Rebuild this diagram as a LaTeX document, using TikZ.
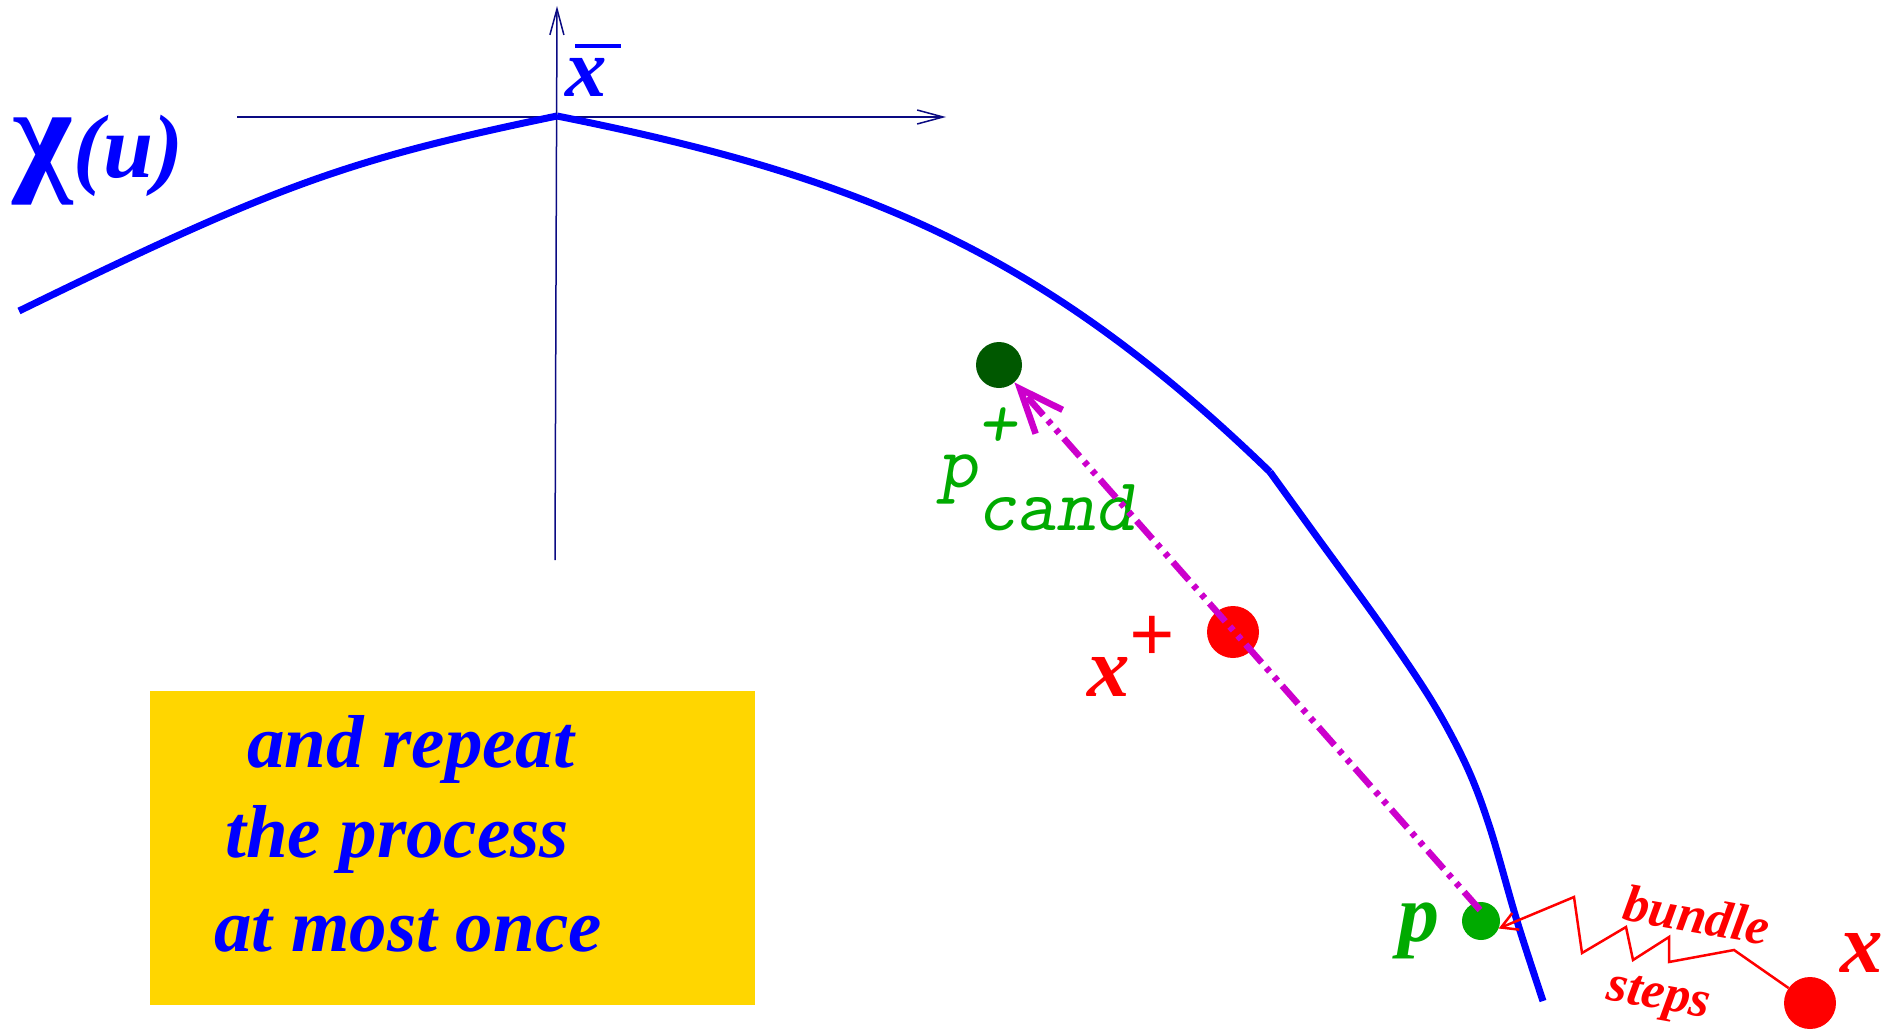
\documentclass[tikz,border=0pt]{standalone}
\usepackage{fontspec}
\setmainfont{Liberation Serif}
\usetikzlibrary{arrows.meta}
\definecolor{chiblue}{RGB}{0,0,255}
\definecolor{axcol}{RGB}{10,10,130}
\definecolor{magc}{RGB}{204,0,204}
\definecolor{grn}{RGB}{0,170,0}
\definecolor{dgrn}{RGB}{0,88,0}
\definecolor{boxgold}{RGB}{255,214,0}
\tikzset{
  curveline/.style={draw=chiblue, line width=7pt},
  axisline/.style={draw=axcol, line width=1.5pt, -{Straight Barb[length=26pt,width=14pt]}},
  ptdot/.style={circle, inner sep=0pt, draw=none},
  biglbl/.style={anchor=base west, inner sep=0pt, font=\fontsize{#1}{#1}\selectfont\bfseries\itshape},
  magline/.style={draw=magc, line width=6.5pt, dash pattern=on 24pt off 7pt on 5pt off 7pt on 5pt off 7pt,
     -{Straight Barb[length=44pt,width=36pt]}},
  zigline/.style={draw=red, line width=2.5pt, -{Straight Barb[length=16pt,width=18pt]}},
}
\begin{document}
\begin{tikzpicture}[x=1pt,y=-1pt]
\useasboundingbox (0,0) rectangle (1887,1033);
% yellow box
\node[fill=boxgold, minimum width=605pt, minimum height=314pt, anchor=north west, inner sep=0pt] (box) at (150,691) {};
\node[biglbl=75, text=chiblue] (t1) at (247,767) {and repeat};
\node[biglbl=75, text=chiblue] (t2) at (225,857) {the process};
\node[biglbl=75, text=chiblue] (t3) at (214,951) {at most once};
% axes
\coordinate (vb) at (555,560);
\coordinate (vt) at (557,6);
\coordinate (hl) at (237,117);
\coordinate (hr) at (946,117);
\draw[axisline] (vb) -- (vt);
\draw[axisline] (hl) -- (hr);
% curve
\draw[curveline] (19,311) .. controls (275,186) and (345,160) .. (557,116);
\draw[curveline] (557,116) .. controls (857,176) and (1040,249) .. (1270,472);
\draw[curveline] plot[smooth, tension=0.55] coordinates {(1270,472) (1317,537) (1383,628) (1433,703) (1467,767) (1490,828) (1517,921) (1543,1001)};
% labels
\node[anchor=base west, inner sep=0pt, text=chiblue, font=\fontsize{90}{90}\selectfont] (chi) at (12,177)
  {{\fontsize{130}{130}\selectfont\bfseries χ}\textbf{\textit{(u)}}};
\node[biglbl=83, text=chiblue] (xbar) at (565,96) {x};
\draw[chiblue, line width=4.5pt] (575,46) -- (621,46);
% dots
\node[ptdot, fill=dgrn, minimum size=46pt] (pc) at (999,365) {};
\node[ptdot, fill=red, minimum size=52pt] (xp) at (1233,632) {};
\node[ptdot, fill=grn, minimum size=38pt] (p) at (1481,921) {};
\node[ptdot, fill=red, minimum size=52pt] (x) at (1810,1003) {};
% point labels
\node[biglbl=85, text=red] (xplab) at (1087,696) {x\raisebox{35pt}{\fontsize{80}{80}\selectfont\upshape\bfseries +}};
\node[anchor=base west, inner sep=0pt, text=grn, font=\fontsize{75}{75}\selectfont\ttfamily\slshape] (pclab) at (938,487)
  {p\rlap{\raisebox{40pt}{+}}\raisebox{-43pt}{cand}};
\node[biglbl=82, text=grn] (plab) at (1398,941) {p};
\node[biglbl=85, text=red] (xlab) at (1840,972) {x};
\node[rotate=-10, text=red, font=\fontsize{52}{52}\selectfont\bfseries\itshape] (bl) at (1697,915) {bundle};
\node[rotate=-10, text=red, font=\fontsize{52}{52}\selectfont\bfseries\itshape] (st) at (1658,1000) {steps};
% zigzag bundle steps
\coordinate (z1) at (1734,950);
\coordinate (z2) at (1669,962);
\coordinate (z3) at (1669,937);
\coordinate (z4) at (1633,960);
\coordinate (z5) at (1626,927);
\coordinate (z6) at (1582,953);
\coordinate (z7) at (1574,897);
\draw[zigline] (x) -- (z1) -- (z2) -- (z3) -- (z4) -- (z5) -- (z6) -- (z7) -- (p.-23);
% magenta step
\coordinate (pstart) at (1480,910);
\draw[magline] (pstart) -- (pc);
\end{tikzpicture}
\end{document}
